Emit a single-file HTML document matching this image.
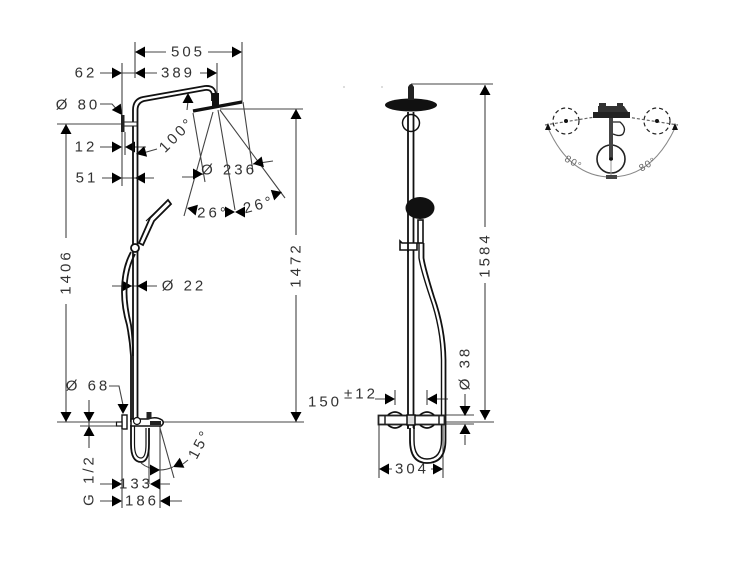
<!DOCTYPE html>
<html><head><meta charset="utf-8"><style>
html,body{margin:0;padding:0;background:#fff}
svg{display:block}
text{font-family:"Liberation Sans",sans-serif;font-size:15px;fill:#333;letter-spacing:3px;text-anchor:middle;dominant-baseline:central}
.d{stroke:#444;stroke-width:1.1;fill:none}
.p{stroke:#111;stroke-width:1.6;fill:none}
.a{fill:#000}
</style></head><body>
<svg width="750" height="563" viewBox="0 0 750 563" xmlns="http://www.w3.org/2000/svg">
<defs>
<path id="l" d="M0 0L10 -5.5V5.5Z"/><path id="r" d="M0 0L-10 -5.5V5.5Z"/><path id="u" d="M0 0L-5.5 10H5.5Z"/><path id="dn" d="M0 0L-5.5 -10H5.5Z"/>
</defs>

<!-- left: dimensions -->
<g class="d">
<path d="M135 42V78M242 42V102M217 63V93M122 63V186"/>
<path d="M145 52H166M208 52H232M145 73H157M200 73H207M100 73H112M122 73H135"/>
<path d="M57 124H122M66 124V238M66 304V422M296 109V235M296 295V422M220 109H303"/>
<path d="M100 147H112M125 132V155M125 147H146M102 178H112M135 178H154M122 178H135"/>
<path d="M100 104H112L120 113"/>
<path d="M193 113L205 182M213 112L184 216M218 110L235 210M220 110L285 198M243 102L253 172M182 177H195M253 164L273 161"/>
<path d="M157 149L143 153M188 101L187 110"/>
<path d="M112 286H157"/>
<path d="M57 422H116M160 422H304M80 426H116"/>
<path d="M89 400V448"/>
<path d="M109 386H119L123 405M122 430V508M160 426V508M149 440V484M160 428L174 478"/>
<path d="M100 484H112M160 484H170M100 501H112M170 501H182"/>
<path d="M141 463Q148 469 160 470Q166 470 173 467M183 464L188 460"/>
</g>
<g class="a">
<use href="#l" x="135" y="52"/><use href="#r" x="242" y="52"/>
<use href="#l" x="135" y="73"/><use href="#r" x="217" y="73"/><use href="#r" x="122" y="73"/>
<use href="#u" x="66" y="124"/><use href="#dn" x="66" y="422"/>
<use href="#u" x="296" y="109"/><use href="#dn" x="296" y="422"/>
<use href="#r" x="122" y="147"/><use href="#l" x="125" y="147"/>
<use href="#r" x="122" y="178"/><use href="#l" x="135" y="178"/>
<use href="#u" x="188" y="93"/>
<use href="#dn" x="122" y="115" transform="rotate(-35 122 115)"/>
<use href="#l" x="136" y="154" transform="rotate(-15 136 154)"/>
<use href="#r" x="203" y="174"/>
<use href="#l" x="253" y="164" transform="rotate(-12 253 164)"/>
<use href="#l" x="187" y="208" transform="rotate(12 187 208)"/>
<use href="#r" x="235" y="212"/>
<use href="#l" x="235" y="212"/>
<use href="#r" x="282" y="192" transform="rotate(-18 282 192)"/>
<use href="#r" x="132" y="286"/><use href="#l" x="137" y="286"/>
<use href="#dn" x="89" y="422"/><use href="#u" x="89" y="426"/>
<use href="#dn" x="123" y="414"/>
<use href="#r" x="122" y="484"/><use href="#l" x="150" y="484"/>
<use href="#r" x="122" y="501"/><use href="#l" x="160" y="501"/>
<use href="#r" x="160" y="470"/><use href="#l" x="173" y="467" transform="rotate(-25 173 467)"/>
</g>

<!-- left: shower body -->
<g class="p">
<path d="M133 422V110Q133 99 143 97L205 86Q216 85 216 96V101" stroke-width="1.8"/>
<path d="M137.5 422V110Q137.5 103 144 101L205 90Q212 89 212 96V101" stroke-width="1.8"/>
<path d="M131 252Q122 268 122 292Q122 308 127 325Q130 340 131 356V422" stroke-width="1.8"/>
<path d="M135 254Q126.5 270 126.5 292Q126.5 306 131 325Q133 340 133 356" stroke-width="1.8"/>
<path d="M139 243L150 218L168 200L171 204L154 221L143 245Z" fill="#fff" stroke-width="1.8"/>
<path d="M146 221L165 203" stroke-width="1"/>
<path d="M131 425V444Q131 462 141 462Q149 462 149 444V428" stroke-width="1.8"/>
<path d="M134.5 425V444Q134.5 458 141 458Q146 458 146 444V428" stroke-width="1.2"/>
<circle cx="135" cy="248" r="4" fill="#fff" stroke-width="1.8"/>
</g>
<path d="M193 111L242 102" stroke="#111" stroke-width="3.2" fill="none"/>
<rect x="212" y="93" width="7" height="14" fill="#111"/>
<rect x="121" y="115" width="3.5" height="17" fill="#222"/>
<rect x="124" y="122" width="13" height="4" fill="#fff" stroke="#222"/>
<rect x="122" y="415" width="5" height="14" fill="#fff" stroke="#111" stroke-width="1.4"/>
<rect x="116.5" y="422" width="5.5" height="4" fill="#fff" stroke="#111" stroke-width="1.2"/>
<path d="M131 419H148Q156 416 162 420Q165 423 161 426H131Z" fill="#fff" stroke="#111" stroke-width="1.5"/>
<path d="M150 421H161V425H150Z" fill="#222"/>
<rect x="146.5" y="412" width="5" height="7" fill="#222"/>
<circle cx="137" cy="421" r="3.5" fill="#fff" stroke="#111" stroke-width="1.2"/>

<text x="188" y="52">505</text>
<text x="178" y="73">389</text>
<text x="86" y="73">62</text>
<text x="78" y="105">Ø 80</text>
<text x="86" y="147">12</text>
<text x="87" y="178">51</text>
<text x="177" y="135" transform="rotate(-45 177 135)">100°</text>
<text x="229" y="170">Ø 236</text>
<text x="213" y="213">26°</text>
<text x="259" y="205" transform="rotate(-15 259 205)">26°</text>
<text x="184" y="286">Ø 22</text>
<text x="88" y="386">Ø 68</text>
<text x="296" y="265" transform="rotate(-90 296 265)">1472</text>
<text x="66" y="272" transform="rotate(-90 66 272)">1406</text>
<text x="89" y="480" transform="rotate(-90 89 480)">G 1/2</text>
<text x="200" y="444" transform="rotate(-62 200 444)">15°</text>
<text x="136" y="484">133</text>
<text x="142" y="501">186</text>

<!-- middle -->
<g class="d">
<path d="M411 84H493M485 85V227M485 283V420M378 422H494"/>
<path d="M375 399H386M437 399H448"/>
<path d="M395 390V405M427 390V405"/>
<path d="M465 394V406M465 435V445M415 415H474M415 424H474"/>
<path d="M379 425V478M443 425V478M389 469H392M431 469H433"/>
</g>
<g class="a">
<use href="#u" x="485" y="85"/><use href="#dn" x="485" y="420"/>
<use href="#r" x="395" y="399"/><use href="#l" x="427" y="399"/>
<use href="#dn" x="465" y="416"/><use href="#u" x="465" y="424"/>
<use href="#l" x="379" y="469"/><use href="#r" x="443" y="469"/>
</g>
<g class="p">
<path d="M408 112V428M413.5 112V428" stroke-width="1.8"/>
<circle cx="411" cy="123" r="8.5" stroke-width="1.5"/>
<path d="M423.5 243V258Q425 268 434 297Q445 328 445.5 360V440Q445.5 463 427 463Q410 463 410 440V428" stroke-width="1.8"/>
<path d="M419 243V258Q421 270 430 297Q441 328 441.5 360V440Q441.5 459 427 459Q414 459 414 440V428" stroke-width="1.4"/>
<path d="M400 241V250H417V243H402Z" fill="#fff" stroke-width="1.6"/>
<rect x="418" y="220" width="5" height="23" fill="#fff" stroke-width="1.6"/>
<path d="M408 243V252" stroke-width="1.8"/>
</g>
<ellipse cx="411" cy="105" rx="26" ry="6.5" fill="#111"/>
<path d="M408 100V87Q411 81 414 87V100Z" fill="#222"/>
<ellipse cx="420" cy="208" rx="14.5" ry="11" fill="#111"/>
<rect x="378.5" y="415.5" width="66" height="9" fill="#fff" stroke="#222" stroke-width="1.8"/>
<path d="M385 416V424M439 416V424" stroke="#222" stroke-width="1.5"/>
<path d="M388 415Q395 409 402 415M388 425Q395 431 402 425M420 415Q427 409 434 415M420 425Q427 431 434 425" stroke="#111" stroke-width="1.8" fill="none"/>
<rect x="407" y="415" width="8" height="10" fill="#ddd" stroke="#111" stroke-width="1.5"/>
<path d="M408 425V429M414 425V429" stroke="#111" stroke-width="1.8"/>
<circle cx="344" cy="87" r=".6" fill="#888"/><circle cx="382" cy="87" r=".6" fill="#888"/>

<text x="361" y="394">±12</text>
<text x="325" y="402">150</text>
<text x="412" y="469">304</text>
<text x="485" y="255" transform="rotate(-90 485 255)">1584</text>
<text x="465" y="368" transform="rotate(-90 465 368)">Ø 38</text>

<!-- right -->
<g fill="none" stroke="#222">
<circle cx="611" cy="159" r="14" stroke-width="1.6"/>
<path d="M611 116V160" stroke="#444" stroke-width="4"/>
<path d="M611 159V176" stroke="#999"/>
<path d="M613 122H620Q627 128 623 134Q620 137 613 134" stroke-width="1.3"/>
<circle cx="566" cy="121" r="13" stroke-dasharray="4 3" stroke-width="1.2"/>
<circle cx="657" cy="121" r="13" stroke-dasharray="4 3" stroke-width="1.2"/>
<path d="M545 125L595 117M627 117L678 125" stroke-dasharray="3 2" stroke="#666" stroke-width="1.2"/>
<path d="M548 128Q570 177 611 177Q652 177 675 128" stroke="#888"/>
</g>
<path d="M593 112H630V118H593Z" fill="#222"/>
<path d="M598 106H624L628 112H598Z" fill="#333"/>
<rect x="599" y="103" width="7" height="4" fill="#333"/><rect x="617" y="103" width="6" height="4" fill="#333"/>
<rect x="606" y="175" width="11" height="4" fill="#444"/>
<circle cx="566" cy="121" r="2" fill="#111"/><circle cx="657" cy="121" r="2" fill="#111"/>
<circle cx="611" cy="159" r="1.8" fill="#111"/>
<path d="M548 123L545 130H551ZM675 123L672 130H678Z" fill="#111"/>
<text x="573" y="163" transform="rotate(30 573 163)" style="font-size:10px;letter-spacing:1px;fill:#666">80°</text>
<text x="648" y="165" transform="rotate(-30 648 165)" style="font-size:10px;letter-spacing:1px;fill:#666">80°</text>
</svg>
</body></html>
